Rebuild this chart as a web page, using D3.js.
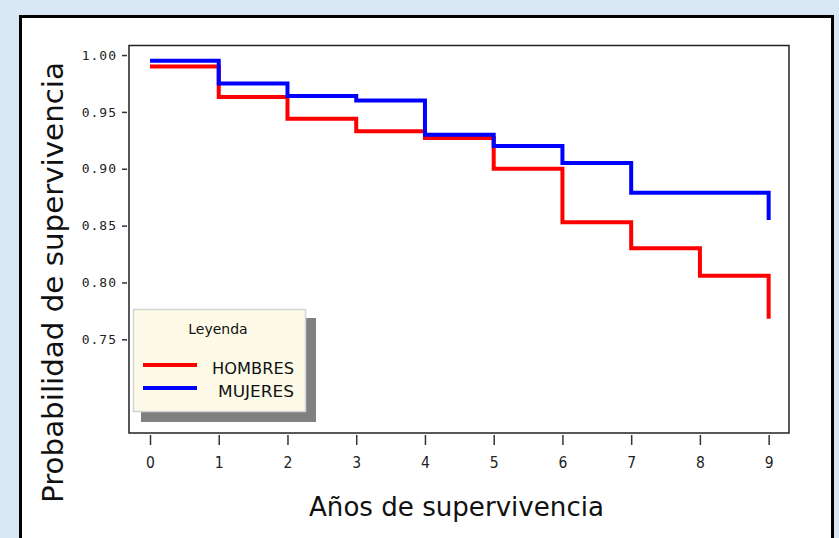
<!DOCTYPE html>
<html><head><meta charset="utf-8">
<script src="https://cdn.jsdelivr.net/npm/d3@7"></script>
<style>html,body{margin:0;padding:0;background:#d9e7f5;}svg{display:block;}</style>
</head><body>
<script>
// ---- data ----
const years = [0, 1, 2, 3, 4, 5, 6, 7, 8, 9];
const hombres = [0.990, 0.963, 0.944, 0.933, 0.927, 0.900, 0.853, 0.830, 0.806, 0.768];
const mujeres = [0.995, 0.975, 0.964, 0.960, 0.930, 0.920, 0.905, 0.879, 0.879, 0.855];
const seriesNames = ["HOMBRES", "MUJERES"];
const seriesColors = ["#ff0000", "#0000ff"];
const yTicks = [0.75, 0.80, 0.85, 0.90, 0.95, 1.00];
const xTicks = [0, 1, 2, 3, 4, 5, 6, 7, 8, 9];
const xTitle = "Años de supervivencia";
const yTitle = "Probabilidad de supervivencia";
const legendTitle = "Leyenda";

const W = 839, H = 538;
const svg = d3.select("body").append("svg").attr("width", W).attr("height", H);

// background
svg.append("rect").attr("width", W).attr("height", H).attr("fill", "#d9e7f5");
// white panel
svg.append("rect").attr("x", 20.5).attr("y", 16.5).attr("width", 812).attr("height", 600)
  .attr("fill", "#fff").attr("stroke", "#000").attr("stroke-width", 3);

const plot = {l: 129, r: 789, t: 45.5, b: 433};
const x = d3.scaleLinear().domain([-0.3056, 9.296]).range([plot.l, plot.r]);
const y = d3.scaleLinear().domain([0.6676, 1.0084]).range([plot.b, plot.t]);

// frame
svg.append("rect").attr("x", plot.l).attr("y", plot.t).attr("width", plot.r - plot.l).attr("height", plot.b - plot.t)
  .attr("fill", "none").attr("stroke", "#222").attr("stroke-width", 1.5);

// x axis
const xAxis = svg.append("g").attr("transform", `translate(0,${plot.b + 2})`)
  .call(d3.axisBottom(x).tickValues(xTicks).tickSize(10).tickPadding(12).tickFormat(d3.format("d")));
xAxis.select(".domain").remove();
xAxis.selectAll("line").attr("stroke", "#333").attr("stroke-width", 1.5);
xAxis.selectAll("text").attr("font-family", "'Liberation Sans Narrow','DejaVu Sans Condensed',sans-serif")
  .attr("font-size", 15.5).attr("fill", "#222");

// y axis
const yAxis = svg.append("g").attr("transform", `translate(${plot.l - 2},0)`)
  .call(d3.axisLeft(y).tickValues(yTicks).tickSize(5).tickPadding(5).tickFormat(d3.format(".2f")));
yAxis.select(".domain").remove();
yAxis.selectAll("line").attr("stroke", "#333").attr("stroke-width", 1.5);
yAxis.selectAll("text").attr("font-family", "'DejaVu Sans Mono',monospace")
  .attr("font-size", 13).attr("letter-spacing", 1).attr("fill", "#222");

// step lines
const line = d3.line().x(d => x(d[0])).y(d => y(d[1])).curve(d3.curveStepAfter);
[hombres, mujeres].forEach((vals, i) => {
  const pts = years.slice(0, years.length - 1).map((t, k) => [t, vals[k]]);
  pts.push([years[years.length - 1], vals[years.length - 2]]);
  pts.push([years[years.length - 1], vals[years.length - 1]]);
  svg.append("path").attr("d", line(pts)).attr("fill", "none")
    .attr("stroke", seriesColors[i]).attr("stroke-width", 4).attr("stroke-linejoin", "miter");
});

// legend
const lg = svg.append("g");
lg.append("rect").attr("x", 141).attr("y", 318).attr("width", 175).attr("height", 104).attr("fill", "#808080");
lg.append("rect").attr("x", 133.5).attr("y", 309.5).attr("width", 172).attr("height", 102)
  .attr("fill", "#fdfbe8").attr("stroke", "#d4d4d4").attr("stroke-width", 1.5);
lg.append("text").attr("x", 218).attr("y", 334).attr("text-anchor", "middle")
  .attr("font-family", "'DejaVu Sans',sans-serif").attr("font-size", 14)
  .attr("fill", "#111").text(legendTitle);
const legendWidths = [82, 76];
seriesNames.forEach((n, i) => {
  const yy = 365 + i * 23;
  lg.append("line").attr("x1", 143).attr("x2", 197).attr("y1", yy).attr("y2", yy)
    .attr("stroke", seriesColors[i]).attr("stroke-width", 4);
  lg.append("text").attr("x", 294).attr("y", yy + 9).attr("text-anchor", "end")
    .attr("textLength", legendWidths[i]).attr("lengthAdjust", "spacingAndGlyphs")
    .attr("font-family", "'DejaVu Sans',sans-serif").attr("font-size", 16)
    .attr("fill", "#111").text(n);
});

// titles
svg.append("text").attr("x", 309).attr("y", 516).attr("textLength", 295).attr("lengthAdjust", "spacingAndGlyphs")
  .attr("font-family", "'DejaVu Sans Condensed','DejaVu Sans',sans-serif").attr("font-size", 26).attr("fill", "#111")
  .text(xTitle);
svg.append("text").attr("transform", "translate(63,503) rotate(-90)").attr("textLength", 441).attr("lengthAdjust", "spacingAndGlyphs")
  .attr("font-family", "'DejaVu Sans',sans-serif").attr("font-size", 28).attr("fill", "#111")
  .text(yTitle);
</script>
</body></html>
